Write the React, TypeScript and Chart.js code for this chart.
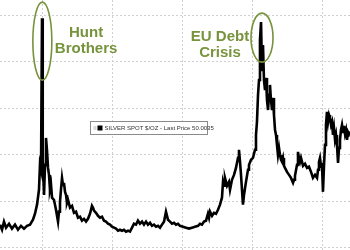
import React, { useEffect, useRef } from "react";
import { Chart, registerables } from "chart.js";

Chart.register(...registerables);

// Decimal year of each observation
const years = [
  1974.0, 1974.29, 1974.57, 1974.86, 1975.29, 1975.71, 1976.14, 1976.57, 1977.0, 1977.43,
  1977.86, 1978.29, 1978.71, 1979.0, 1979.29, 1979.57, 1979.71, 1979.86, 1980.0, 1980.07,
  1980.14, 1980.29, 1980.43, 1980.57, 1980.71, 1980.86, 1981.0, 1981.14, 1981.29, 1981.43,
  1981.71, 1982.0, 1982.29, 1982.43, 1982.57, 1982.71, 1982.86, 1983.0, 1983.14, 1983.29,
  1983.43, 1983.57, 1983.71, 1984.0, 1984.29, 1984.57, 1984.86, 1985.14, 1985.43, 1985.71,
  1986.0, 1986.29, 1986.57, 1986.86, 1987.14, 1987.29, 1987.43, 1987.71, 1988.0, 1988.29,
  1988.57, 1988.86, 1989.14, 1989.43, 1989.71, 1990.0, 1990.29, 1990.57, 1990.86, 1991.14,
  1991.43, 1991.71, 1992.0, 1992.29, 1992.57, 1992.86, 1993.14, 1993.43, 1993.71, 1994.0,
  1994.29, 1994.57, 1994.86, 1995.14, 1995.43, 1995.71, 1996.0, 1996.29, 1996.57, 1996.86,
  1997.14, 1997.43, 1997.71, 1997.86, 1998.0, 1998.29, 1998.57, 1998.86, 1999.14, 1999.43,
  1999.71, 2000.14, 2000.57, 2001.0, 2001.43, 2001.86, 2002.29, 2002.57, 2002.86, 2003.14,
  2003.43, 2003.71, 2003.86, 2004.0, 2004.29, 2004.57, 2004.86, 2005.14, 2005.43, 2005.71,
  2005.86, 2006.0, 2006.14, 2006.43, 2006.71, 2006.86, 2007.14, 2007.43, 2007.71, 2008.0,
  2008.14, 2008.29, 2008.43, 2008.71, 2008.86, 2009.14, 2009.43, 2009.57, 2009.86, 2010.14,
  2010.43, 2010.57, 2010.71, 2010.86, 2011.0, 2011.14, 2011.29, 2011.43, 2011.57, 2011.71,
  2011.86, 2012.0, 2012.14, 2012.29, 2012.43, 2012.57, 2012.71, 2012.86, 2013.0, 2013.14,
  2013.29, 2013.43, 2013.57, 2013.71, 2013.86, 2014.0, 2014.14, 2014.29, 2014.43, 2014.57,
  2014.71, 2015.0, 2015.29, 2015.57, 2015.86, 2016.0, 2016.14, 2016.43, 2016.57, 2016.71,
  2016.86, 2017.0, 2017.29, 2017.57, 2017.86, 2018.14, 2018.43, 2018.71, 2019.0, 2019.29,
  2019.43, 2019.57, 2019.71, 2019.86, 2020.0, 2020.14, 2020.29, 2020.43, 2020.57, 2020.71,
  2020.86, 2021.0, 2021.14, 2021.29, 2021.43, 2021.57, 2021.71, 2021.86, 2022.0, 2022.14,
  2022.29, 2022.43, 2022.57, 2022.71, 2022.86, 2023.0, 2023.14, 2023.29, 2023.43, 2023.57,
  2023.71, 2023.86, 2024.0,
];

// Silver spot, $/oz
const prices = [
  9.9, 7.7, 11.2, 8.6, 10.3, 8.2, 9.9, 7.7, 9.4, 8.2,
  9.4, 9.9, 12.0, 14.6, 18.5, 24.9, 35.6, 33.5, 98.7, 54.9,
  37.8, 22.7, 35.6, 47.2, 42.1, 34.3, 31.3, 24.9, 27.0, 21.5,
  20.6, 16.3, 11.2, 15.5, 19.7, 24.9, 30.0, 27.0, 27.9, 24.0,
  22.7, 19.3, 20.6, 17.2, 18.0, 15.0, 15.5, 12.9, 13.3, 11.6,
  12.4, 11.2, 12.4, 14.6, 18.0, 17.2, 15.9, 15.0, 13.7, 12.9,
  13.3, 11.6, 11.2, 10.3, 9.9, 9.0, 8.6, 8.2, 7.3, 7.7,
  7.3, 7.7, 6.9, 7.3, 6.9, 8.6, 10.3, 9.9, 11.6, 10.3,
  11.2, 9.9, 11.2, 9.9, 10.7, 9.4, 9.9, 9.0, 9.4, 8.6,
  9.9, 11.2, 15.5, 13.7, 12.0, 11.2, 10.3, 10.7, 9.9, 10.3,
  9.4, 9.0, 8.6, 8.2, 8.6, 9.0, 9.4, 10.3, 9.9, 11.2,
  11.6, 14.6, 12.9, 15.5, 13.7, 15.0, 14.6, 16.3, 18.5, 21.5,
  28.3, 26.6, 30.0, 26.6, 28.3, 24.9, 29.2, 31.3, 34.3, 38.6,
  42.1, 36.9, 31.3, 18.5, 22.7, 28.3, 33.5, 35.6, 37.8, 38.6,
  42.1, 48.5, 54.1, 65.7, 72.1, 89.3, 97.0, 76.4, 87.1, 72.1,
  67.8, 73.0, 63.5, 59.2, 65.7, 70.0, 63.5, 59.2, 64.4, 57.1,
  50.6, 48.5, 44.2, 39.9, 42.9, 39.9, 37.8, 36.9, 38.6, 35.2,
  34.3, 32.6, 31.3, 30.0, 27.9, 29.2, 30.9, 35.6, 41.2, 38.6,
  36.9, 38.6, 35.2, 36.1, 34.3, 34.8, 32.6, 30.0, 31.3, 30.0,
  33.5, 36.9, 38.6, 35.2, 35.6, 24.0, 35.6, 44.2, 52.8, 58.4,
  54.1, 57.1, 55.8, 52.8, 54.1, 48.5, 51.5, 46.4, 48.5, 44.2,
  36.4, 42.9, 46.4, 50.6, 52.8, 49.8, 52.4, 48.9, 50.6, 46.4,
  49.8, 48.9, 50.0035,
];

const gridYears = [1980, 1990, 2000, 2010, 2020];
const gridValues = [0, 20, 40, 60, 80, 100];

const seriesName = "SILVER SPOT $/OZ";
const lastPrice = prices[prices.length - 1];

const GREEN = "#77933c";

// Callouts: anchor in data units, ellipse radii in pixels
const callouts = [
  {
    ellipse: { x: 1980.05, y: 88.8, rx: 9.5, ry: 39 },
    text: { x: 1986.3, y: 89.0, lines: ["Hunt", "Brothers"] },
  },
  {
    ellipse: { x: 2011.43, y: 90.3, rx: 11, ry: 24.5 },
    text: { x: 2005.43, y: 87.2, lines: ["EU Debt", "Crisis"] },
  },
];

const overlayPlugin = {
  id: "overlay",
  afterDatasetsDraw(chart: any) {
    const { ctx, scales } = chart;
    const xs = scales.x;
    const ys = scales.y;
    ctx.save();
    // green callouts
    for (const c of callouts) {
      const ex = xs.getPixelForValue(c.ellipse.x);
      const ey = ys.getPixelForValue(c.ellipse.y);
      ctx.beginPath();
      ctx.ellipse(ex, ey, c.ellipse.rx, c.ellipse.ry, 0, 0, Math.PI * 2);
      ctx.strokeStyle = GREEN;
      ctx.lineWidth = 1.6;
      ctx.stroke();

      const tx = xs.getPixelForValue(c.text.x);
      const ty = ys.getPixelForValue(c.text.y);
      ctx.fillStyle = GREEN;
      ctx.font = "bold 15px 'Liberation Sans', Arial, sans-serif";
      ctx.textAlign = "center";
      ctx.textBaseline = "middle";
      const lh = 16.5;
      c.text.lines.forEach((ln: string, i: number) => {
        ctx.fillText(ln, tx, ty + (i - (c.text.lines.length - 1) / 2) * lh);
      });
    }

    // legend box
    const bx = 90.5;
    const by = 121.5;
    const bw = 117;
    const bh = 13;
    ctx.fillStyle = "#ffffff";
    ctx.fillRect(bx, by, bw, bh);
    ctx.strokeStyle = "#8a8a8a";
    ctx.lineWidth = 1;
    ctx.strokeRect(bx, by, bw, bh);
    // small handle glyph
    ctx.fillStyle = "#b0b0b0";
    ctx.fillRect(bx + 3, by + 5, 3, 1);
    ctx.fillRect(bx + 3, by + 7, 3, 1);
    // series swatch
    ctx.fillStyle = "#000000";
    ctx.fillRect(bx + 7, by + 4, 5, 5);
    ctx.fillStyle = "#333333";
    ctx.font = "6px 'Liberation Sans', Arial, sans-serif";
    ctx.textAlign = "left";
    ctx.textBaseline = "middle";
    ctx.fillText(`${seriesName} - Last Price ${lastPrice}`, bx + 14, by + bh / 2 + 0.5);
    ctx.restore();
  },
};

export default function App() {
  const canvasRef = useRef<HTMLCanvasElement | null>(null);

  useEffect(() => {
    document.body.style.margin = "0";
    const canvas = canvasRef.current;
    if (!canvas) return;
    const chart = new Chart(canvas, {
      type: "line",
      data: {
        datasets: [
          {
            label: seriesName,
            data: years.map((yr, i) => ({ x: yr, y: prices[i] })),
            borderColor: "#000000",
            borderWidth: 2.6,
            borderJoinStyle: "miter",
            pointRadius: 0,
            tension: 0,
            fill: false,
          },
        ],
      },
      options: {
        animation: false,
        responsive: false,
        maintainAspectRatio: false,
        layout: { padding: 0 },
        plugins: { legend: { display: false }, tooltip: { enabled: false } },
        scales: {
          x: {
            type: "linear",
            min: 1974,
            max: 2024,
            afterBuildTicks: (s: any) => {
              s.ticks = gridYears.map((v) => ({ value: v }));
            },
            afterFit: (s: any) => {
              s.height = 0;
            },
            ticks: { display: false },
            grid: { color: "#cfcfcf", lineWidth: 1, drawTicks: false },
            border: { display: false, dash: [2, 2] },
          },
          y: {
            type: "linear",
            min: -1,
            max: 106.5,
            afterBuildTicks: (s: any) => {
              s.ticks = gridValues.map((v) => ({ value: v }));
            },
            afterFit: (s: any) => {
              s.width = 0;
            },
            ticks: { display: false },
            grid: { color: "#cfcfcf", lineWidth: 1, drawTicks: false },
            border: { display: false, dash: [2, 2] },
          },
        },
      },
      plugins: [overlayPlugin],
    });
    return () => chart.destroy();
  }, []);

  return (
    <div style={{ width: 350, height: 250, background: "#ffffff" }}>
      <canvas ref={canvasRef} width={350} height={250} />
    </div>
  );
}
